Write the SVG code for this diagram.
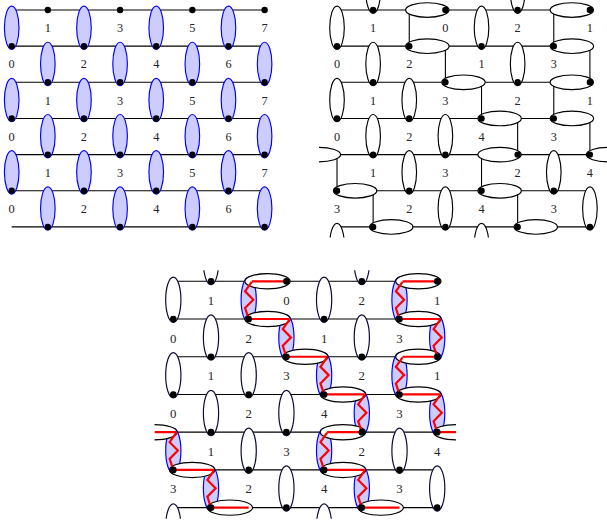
<svg xmlns="http://www.w3.org/2000/svg" width="607" height="525" viewBox="0 0 607 525">
<style>
.ln{fill:none;stroke:#000;stroke-width:1.1}
.w{fill:#fff;stroke:#000;stroke-width:1.15}
.wn{fill:#fff;stroke:#0c0c38;stroke-width:1.15}
.b{fill:#ccf;stroke:#00f;stroke-width:1.15}
.r{fill:none;stroke:#f00;stroke-width:2.1;stroke-linejoin:miter}
.t{opacity:.99}
text{font-family:"Liberation Serif","Times New Roman",serif;font-size:12.3px;fill:#222;text-anchor:middle}
</style>
<defs>
<ellipse id="ev" cy="-18.4" rx="7.3" ry="21.7"/>
<ellipse id="el" cx="-18.1" rx="21.7" ry="7.3"/>
<ellipse id="er" cx="18.1" rx="21.7" ry="7.3"/>
<circle id="d" r="3.2" fill="#000"/>
<g id="nb"><use href="#ev" class="b"/><use href="#d"/></g>
<g id="nv"><use href="#ev" class="w"/><use href="#d"/></g>
<g id="nl"><use href="#el" class="w"/><use href="#d"/></g>
<g id="nr"><use href="#er" class="w"/><use href="#d"/></g>
<path id="zig" d="M2.9 .5L-3.5 9.6 4.4 17.6-3.5 25.6 0 36.15"/>
<clipPath id="cp"><rect x="-18" y="-10.5" width="288.9" height="238"/></clipPath>
</defs>

<g id="panel-a" transform="translate(11.7,10)">
<g id="a-connectors"><path class="ln" d="M0 0H252.91M0 36.15H252.91M0 72.3H252.91M0 108.45H252.91M0 144.6H252.91M0 180.75H252.91M0 216.9H252.91"/></g>
<g id="a-t1"><use href="#d" x="36.13" y="0"/></g><g id="a-t2"><use href="#d" x="108.39" y="0"/></g><g id="a-t3"><use href="#d" x="180.65" y="0"/></g><g id="a-t4"><use href="#d" x="252.91" y="0"/></g>
<g id="a-n1"><use href="#nb" x="0" y="36.15"/></g><g id="a-n2"><use href="#nb" x="72.26" y="36.15"/></g><g id="a-n3"><use href="#nb" x="144.52" y="36.15"/></g><g id="a-n4"><use href="#nb" x="216.78" y="36.15"/></g>
<g id="a-n5"><use href="#nb" x="36.13" y="72.3"/></g><g id="a-n6"><use href="#nb" x="108.39" y="72.3"/></g><g id="a-n7"><use href="#nb" x="180.65" y="72.3"/></g><g id="a-n8"><use href="#nb" x="252.91" y="72.3"/></g>
<g id="a-n9"><use href="#nb" x="0" y="108.45"/></g><g id="a-n10"><use href="#nb" x="72.26" y="108.45"/></g><g id="a-n11"><use href="#nb" x="144.52" y="108.45"/></g><g id="a-n12"><use href="#nb" x="216.78" y="108.45"/></g>
<g id="a-n13"><use href="#nb" x="36.13" y="144.6"/></g><g id="a-n14"><use href="#nb" x="108.39" y="144.6"/></g><g id="a-n15"><use href="#nb" x="180.65" y="144.6"/></g><g id="a-n16"><use href="#nb" x="252.91" y="144.6"/></g>
<g id="a-n17"><use href="#nb" x="0" y="180.75"/></g><g id="a-n18"><use href="#nb" x="72.26" y="180.75"/></g><g id="a-n19"><use href="#nb" x="144.52" y="180.75"/></g><g id="a-n20"><use href="#nb" x="216.78" y="180.75"/></g>
<g id="a-n21"><use href="#nb" x="36.13" y="216.9"/></g><g id="a-n22"><use href="#nb" x="108.39" y="216.9"/></g><g id="a-n23"><use href="#nb" x="180.65" y="216.9"/></g><g id="a-n24"><use href="#nb" x="252.91" y="216.9"/></g>
<g id="a-labels" class="t">
<text x="36.13" y="22.2">1</text><text x="108.39" y="22.2">3</text><text x="180.65" y="22.2">5</text><text x="252.91" y="22.2">7</text>
<text x="0" y="58.35">0</text><text x="72.26" y="58.35">2</text><text x="144.52" y="58.35">4</text><text x="216.78" y="58.35">6</text>
<text x="36.13" y="94.5">1</text><text x="108.39" y="94.5">3</text><text x="180.65" y="94.5">5</text><text x="252.91" y="94.5">7</text>
<text x="0" y="130.65">0</text><text x="72.26" y="130.65">2</text><text x="144.52" y="130.65">4</text><text x="216.78" y="130.65">6</text>
<text x="36.13" y="166.8">1</text><text x="108.39" y="166.8">3</text><text x="180.65" y="166.8">5</text><text x="252.91" y="166.8">7</text>
<text x="0" y="202.95">0</text><text x="72.26" y="202.95">2</text><text x="144.52" y="202.95">4</text><text x="216.78" y="202.95">6</text>
</g>
</g>

<g id="panel-b" transform="translate(337,10)" clip-path="url(#cp)">
<g id="b-connectors"><path class="ln" d="M0 0H252.91M0 36.15H252.91M0 72.3H252.91M0 108.45H252.91M0 144.6H252.91M0 180.75H252.91M0 216.9H252.91M72.26 0V36.15M216.78 0V36.15M108.39 36.15V72.3M252.91 36.15V72.3M144.52 72.3V108.45M216.78 72.3V108.45M180.65 108.45V144.6M252.91 108.45V144.6M0 144.6V180.75M144.52 144.6V180.75M36.13 180.75V216.9M180.65 180.75V216.9"/></g>
<g id="b-v1"><use href="#nv" x="36.13" y="0"/></g><g id="b-v2"><use href="#nv" x="180.65" y="0"/></g>
<g id="b-v3"><use href="#nv" x="0" y="36.15"/></g><g id="b-v4"><use href="#nv" x="144.52" y="36.15"/></g>
<g id="b-v5"><use href="#nv" x="36.13" y="72.3"/></g><g id="b-v6"><use href="#nv" x="180.65" y="72.3"/></g>
<g id="b-v7"><use href="#nv" x="0" y="108.45"/></g><g id="b-v8"><use href="#nv" x="72.26" y="108.45"/></g>
<g id="b-v9"><use href="#nv" x="36.13" y="144.6"/></g><g id="b-v10"><use href="#nv" x="108.39" y="144.6"/></g>
<g id="b-v11"><use href="#nv" x="72.26" y="180.75"/></g><g id="b-v12"><use href="#nv" x="216.78" y="180.75"/></g>
<g id="b-v13"><use href="#nv" x="108.39" y="216.9"/></g><g id="b-v14"><use href="#nv" x="252.91" y="216.9"/></g>
<g id="b-h1"><use href="#nl" x="108.39" y="0"/></g><g id="b-h2"><use href="#nl" x="252.91" y="0"/></g>
<g id="b-h3"><use href="#nr" x="72.26" y="36.15"/></g><g id="b-h4"><use href="#nr" x="216.78" y="36.15"/></g>
<g id="b-h5"><use href="#nr" x="108.39" y="72.3"/></g><g id="b-h6"><use href="#nl" x="252.91" y="72.3"/></g>
<g id="b-h7"><use href="#nr" x="144.52" y="108.45"/></g><g id="b-h8"><use href="#nr" x="216.78" y="108.45"/></g>
<g id="b-h9"><use href="#el" class="w" x="0" y="144.6"/></g><g id="b-h10"><use href="#nl" x="180.65" y="144.6"/></g><g id="b-h11"><use href="#nr" x="252.91" y="144.6"/></g>
<g id="b-h12"><use href="#nr" x="0" y="180.75"/></g><g id="b-h13"><use href="#nr" x="144.52" y="180.75"/></g>
<g id="b-h14"><use href="#nr" x="36.13" y="216.9"/></g><g id="b-h15"><use href="#nr" x="180.65" y="216.9"/></g>
<g id="b-a1"><use href="#ev" class="w" x="0" y="253.4"/></g><g id="b-a2"><use href="#ev" class="w" x="144.52" y="253.4"/></g>
<g id="b-labels" class="t">
<text x="36.13" y="22.2">1</text><text x="108.39" y="22.2">0</text><text x="180.65" y="22.2">2</text><text x="252.91" y="22.2">1</text>
<text x="0" y="58.35">0</text><text x="72.26" y="58.35">2</text><text x="144.52" y="58.35">1</text><text x="216.78" y="58.35">3</text>
<text x="36.13" y="94.5">1</text><text x="108.39" y="94.5">3</text><text x="180.65" y="94.5">2</text><text x="252.91" y="94.5">1</text>
<text x="0" y="130.65">0</text><text x="72.26" y="130.65">2</text><text x="144.52" y="130.65">4</text><text x="216.78" y="130.65">3</text>
<text x="36.13" y="166.8">1</text><text x="108.39" y="166.8">3</text><text x="180.65" y="166.8">2</text><text x="252.91" y="166.8">4</text>
<text x="0" y="202.95">3</text><text x="72.26" y="202.95">2</text><text x="144.52" y="202.95">4</text><text x="216.78" y="202.95">3</text>
</g>
</g>

<g id="panel-c" transform="translate(173.3,281.3) scale(1.0435)" clip-path="url(#cp)">
<g id="c-connectors"><path class="ln" d="M0 0H252.91M0 36.15H252.91M0 72.3H252.91M0 108.45H252.91M0 144.6H252.91M0 180.75H252.91M0 216.9H252.91"/></g>
<g id="c-b1"><use href="#ev" class="b" x="72.26" y="36.15"/></g><g id="c-b2"><use href="#ev" class="b" x="216.78" y="36.15"/></g>
<g id="c-b3"><use href="#ev" class="b" x="108.39" y="72.3"/></g><g id="c-b4"><use href="#ev" class="b" x="252.91" y="72.3"/></g>
<g id="c-b5"><use href="#ev" class="b" x="144.52" y="108.45"/></g><g id="c-b6"><use href="#ev" class="b" x="216.78" y="108.45"/></g>
<g id="c-b7"><use href="#ev" class="b" x="180.65" y="144.6"/></g><g id="c-b8"><use href="#ev" class="b" x="252.91" y="144.6"/></g>
<g id="c-b9"><use href="#ev" class="b" x="0" y="180.75"/></g><g id="c-b10"><use href="#ev" class="b" x="144.52" y="180.75"/></g>
<g id="c-b11"><use href="#ev" class="b" x="36.13" y="216.9"/></g><g id="c-b12"><use href="#ev" class="b" x="180.65" y="216.9"/></g>
<g id="c-v1"><use href="#ev" class="wn" x="36.13" y="0"/></g><g id="c-v2"><use href="#ev" class="wn" x="180.65" y="0"/></g>
<g id="c-v3"><use href="#ev" class="wn" x="0" y="36.15"/></g><g id="c-v4"><use href="#ev" class="wn" x="144.52" y="36.15"/></g>
<g id="c-v5"><use href="#ev" class="wn" x="36.13" y="72.3"/></g><g id="c-v6"><use href="#ev" class="wn" x="180.65" y="72.3"/></g>
<g id="c-v7"><use href="#ev" class="wn" x="0" y="108.45"/></g><g id="c-v8"><use href="#ev" class="wn" x="72.26" y="108.45"/></g>
<g id="c-v9"><use href="#ev" class="wn" x="36.13" y="144.6"/></g><g id="c-v10"><use href="#ev" class="wn" x="108.39" y="144.6"/></g>
<g id="c-v11"><use href="#ev" class="wn" x="72.26" y="180.75"/></g><g id="c-v12"><use href="#ev" class="wn" x="216.78" y="180.75"/></g>
<g id="c-v13"><use href="#ev" class="wn" x="108.39" y="216.9"/></g><g id="c-v14"><use href="#ev" class="wn" x="252.91" y="216.9"/></g>
<g id="c-h1"><use href="#el" class="w" x="108.39" y="0"/></g><g id="c-h2"><use href="#el" class="w" x="252.91" y="0"/></g>
<g id="c-h3"><use href="#er" class="w" x="72.26" y="36.15"/></g><g id="c-h4"><use href="#er" class="w" x="216.78" y="36.15"/></g>
<g id="c-h5"><use href="#er" class="w" x="108.39" y="72.3"/></g><g id="c-h6"><use href="#el" class="w" x="252.91" y="72.3"/></g>
<g id="c-h7"><use href="#er" class="w" x="144.52" y="108.45"/></g><g id="c-h8"><use href="#er" class="w" x="216.78" y="108.45"/></g>
<g id="c-h9"><use href="#el" class="w" x="0" y="144.6"/></g><g id="c-h10"><use href="#el" class="w" x="180.65" y="144.6"/></g><g id="c-h11"><use href="#er" class="w" x="252.91" y="144.6"/></g>
<g id="c-h12"><use href="#er" class="w" x="0" y="180.75"/></g><g id="c-h13"><use href="#er" class="w" x="144.52" y="180.75"/></g>
<g id="c-h14"><use href="#er" class="w" x="36.13" y="216.9"/></g><g id="c-h15"><use href="#er" class="w" x="180.65" y="216.9"/></g>
<g id="c-a1"><use href="#ev" class="wn" x="0" y="253.4"/></g><g id="c-a2"><use href="#ev" class="wn" x="144.52" y="253.4"/></g>
<g id="c-red" class="r">
<path d="M108.39 0H75.16M72.26 36.15H111.29M108.39 72.3H147.42M144.52 108.45H183.55M180.65 144.6H147.42M144.52 180.75H183.55M180.65 216.9H216.78"/>
<path d="M252.91 0H219.68M216.78 36.15H255.81M252.91 72.3H219.68M216.78 108.45H255.81M252.91 144.6H271"/>
<path d="M-18 144.6H2.9M0 180.75H39.03M36.13 216.9H72.26"/>
<use href="#zig" x="72.26" y="0"/><use href="#zig" x="108.39" y="36.15"/><use href="#zig" x="144.52" y="72.3"/><use href="#zig" x="180.65" y="108.45"/><use href="#zig" x="144.52" y="144.6"/><use href="#zig" x="180.65" y="180.75"/>
<use href="#zig" x="216.78" y="0"/><use href="#zig" x="252.91" y="36.15"/><use href="#zig" x="216.78" y="72.3"/><use href="#zig" x="252.91" y="108.45"/>
<use href="#zig" x="0" y="144.6"/><use href="#zig" x="36.13" y="180.75"/>
</g>
<g id="c-dots">
<use href="#d" x="36.13" y="0"/><use href="#d" x="108.39" y="0"/><use href="#d" x="180.65" y="0"/><use href="#d" x="252.91" y="0"/>
<use href="#d" x="0" y="36.15"/><use href="#d" x="72.26" y="36.15"/><use href="#d" x="144.52" y="36.15"/><use href="#d" x="216.78" y="36.15"/>
<use href="#d" x="36.13" y="72.3"/><use href="#d" x="108.39" y="72.3"/><use href="#d" x="180.65" y="72.3"/><use href="#d" x="252.91" y="72.3"/>
<use href="#d" x="0" y="108.45"/><use href="#d" x="72.26" y="108.45"/><use href="#d" x="144.52" y="108.45"/><use href="#d" x="216.78" y="108.45"/>
<use href="#d" x="36.13" y="144.6"/><use href="#d" x="108.39" y="144.6"/><use href="#d" x="180.65" y="144.6"/><use href="#d" x="252.91" y="144.6"/>
<use href="#d" x="0" y="180.75"/><use href="#d" x="72.26" y="180.75"/><use href="#d" x="144.52" y="180.75"/><use href="#d" x="216.78" y="180.75"/>
<use href="#d" x="36.13" y="216.9"/><use href="#d" x="108.39" y="216.9"/><use href="#d" x="180.65" y="216.9"/><use href="#d" x="252.91" y="216.9"/>
</g>
<g id="c-labels" class="t">
<text x="36.13" y="22.6">1</text><text x="108.39" y="22.6">0</text><text x="180.65" y="22.6">2</text><text x="252.91" y="22.6">1</text>
<text x="0" y="58.75">0</text><text x="72.26" y="58.75">2</text><text x="144.52" y="58.75">1</text><text x="216.78" y="58.75">3</text>
<text x="36.13" y="94.9">1</text><text x="108.39" y="94.9">3</text><text x="180.65" y="94.9">2</text><text x="252.91" y="94.9">1</text>
<text x="0" y="131.05">0</text><text x="72.26" y="131.05">2</text><text x="144.52" y="131.05">4</text><text x="216.78" y="131.05">3</text>
<text x="36.13" y="167.2">1</text><text x="108.39" y="167.2">3</text><text x="180.65" y="167.2">2</text><text x="252.91" y="167.2">4</text>
<text x="0" y="203.35">3</text><text x="72.26" y="203.35">2</text><text x="144.52" y="203.35">4</text><text x="216.78" y="203.35">3</text>
</g>
</g>
</svg>
